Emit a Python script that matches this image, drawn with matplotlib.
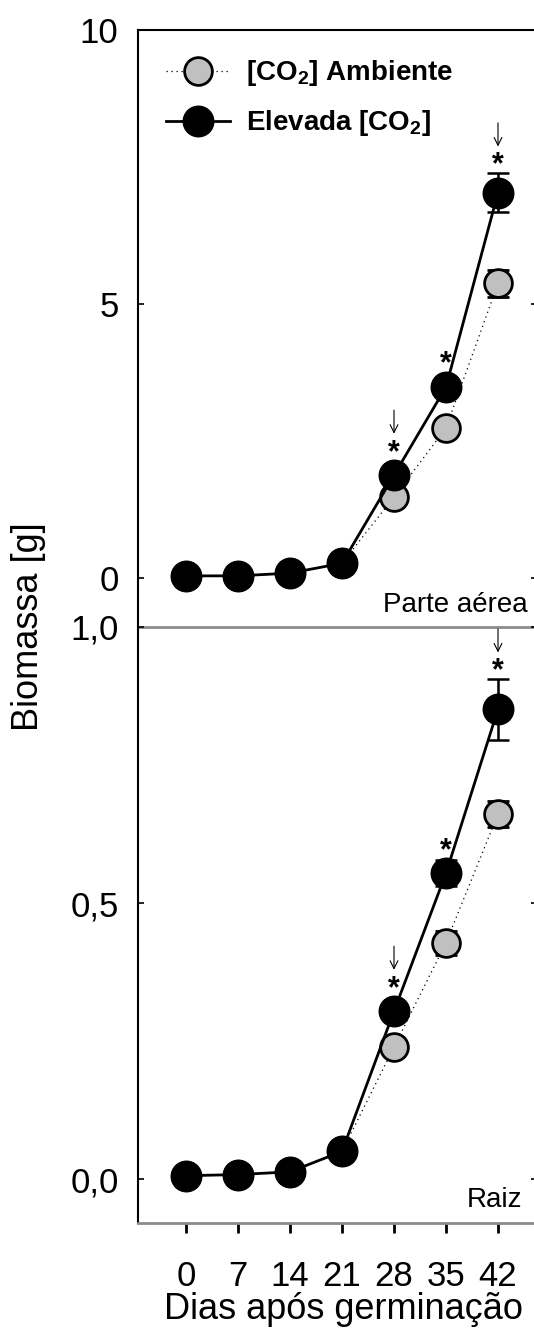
import numpy as np
import matplotlib.pyplot as plt

plt.rcParams['font.family'] = ['Liberation Sans', 'DejaVu Sans']
plt.rcParams['mathtext.fontset'] = 'custom'
plt.rcParams['mathtext.rm'] = 'Liberation Sans'
plt.rcParams['mathtext.bf'] = 'Liberation Sans:bold'

# Dias após germinação
dias = [0, 7, 14, 21, 28, 35, 42]

# Parte aérea (g)
aerea_amb = [0.03, 0.03, 0.08, 0.26, 1.47, 2.73, 5.37]
aerea_amb_err = [0.01, 0.01, 0.02, 0.03, 0.08, 0.10, 0.25]
aerea_elev = [0.03, 0.03, 0.08, 0.26, 1.87, 3.48, 7.03]
aerea_elev_err = [0.01, 0.01, 0.02, 0.03, 0.10, 0.12, 0.36]

# Raiz (g)
raiz_amb = [0.006, 0.008, 0.013, 0.05, 0.239, 0.428, 0.661]
raiz_amb_err = [0.001, 0.001, 0.002, 0.004, 0.008, 0.022, 0.023]
raiz_elev = [0.006, 0.008, 0.013, 0.05, 0.304, 0.554, 0.851]
raiz_elev_err = [0.001, 0.001, 0.002, 0.004, 0.010, 0.024, 0.055]

# dias com diferença significativa (*) e setas
sig_dias = [28, 35, 42]
seta_dias = [28, 42]

W, H = 534, 1336
fig = plt.figure(figsize=(W / 100, H / 100), dpi=100)

x0, x1 = 138 / W, 537 / W
ax_top = fig.add_axes([x0, 1 - 627 / H, x1 - x0, (627 - 30) / H])
ax_bot = fig.add_axes([x0, 1 - 1223 / H, x1 - x0, (1223 - 627) / H])
for ax in (ax_top, ax_bot):
    ax.patch.set_visible(False)


def painel(ax, amb, amb_err, elev, elev_err, ylim, yticks, ylabels, nome, nome_x, nome_y):
    eb_amb = ax.errorbar(dias, amb, yerr=amb_err, fmt='o', color='black', ls=(0, (1, 3)), lw=0.9,
                         ms=20, mfc='#c0c0c0', mec='black', mew=2, ecolor='black', elinewidth=1.8,
                         capsize=8, capthick=1.8, zorder=3)
    eb_elev = ax.errorbar(dias, elev, yerr=elev_err, fmt='o', color='black', ls='-', lw=2,
                          ms=22, mfc='black', mec='black', ecolor='black', elinewidth=1.8,
                          capsize=8, capthick=1.8, zorder=4)
    ax.set_xlim(-6.46, 47.25)
    ax.set_ylim(*ylim)
    ax.set_yticks(yticks)
    ax.set_yticklabels(ylabels)
    ax.tick_params(axis='y', which='both', direction='in', length=4, width=1.2,
                   left=True, right=True, labelsize=25, pad=14)
    ax.text(nome_x, nome_y, nome, transform=ax.transAxes, ha='right', va='baseline', fontsize=20)

    # asteriscos e setas acima das barras de erro
    fig.canvas.draw()
    for d in sig_dias:
        i = dias.index(d)
        yc = ax.transData.transform((d, elev[i]))[1]
        ytop = ax.transData.transform((d, elev[i] + elev_err[i]))[1]
        topo = max(ytop - yc, 15) * 0.72
        ax.annotate('*', xy=(d, elev[i]), xytext=(0, topo - 5.5), textcoords='offset points',
                    ha='center', va='bottom', fontsize=22, fontweight='bold', zorder=5)
        if d in seta_dias:
            ax.annotate('', xy=(d, elev[i]), xytext=(0, topo + 36), textcoords='offset points',
                        arrowprops=dict(arrowstyle='->', lw=0.8, color='black',
                                        shrinkA=0, shrinkB=topo + 19, mutation_scale=14))
    return eb_amb[0], eb_elev[0]


h_amb, h_elev = painel(ax_top, aerea_amb, aerea_amb_err, aerea_elev, aerea_elev_err,
                       (-0.904, 10), [0, 5, 10], ['0', '5', '10'], 'Parte aérea', 0.977, 0.025)
painel(ax_bot, raiz_amb, raiz_amb_err, raiz_elev, raiz_elev_err,
       (-0.0797, 1.0), [0.0, 0.5, 1.0], ['0,0', '0,5', '1,0'], 'Raiz', 0.962, 0.027)

for sp in ['top', 'left', 'right']:
    ax_top.spines[sp].set_linewidth(1.5)
ax_top.spines['bottom'].set_color('#8c8c8c')
ax_top.spines['bottom'].set_linewidth(2)
ax_top.tick_params(axis='x', bottom=False, labelbottom=False)

ax_bot.spines['top'].set_visible(False)
ax_bot.spines['left'].set_linewidth(1.5)
ax_bot.spines['right'].set_linewidth(1.5)
ax_bot.spines['bottom'].set_color('#8c8c8c')
ax_bot.spines['bottom'].set_linewidth(2)
ax_bot.set_xticks(dias)
ax_bot.set_xticklabels([str(d) for d in dias])
ax_bot.tick_params(axis='x', direction='out', length=7, width=2, labelsize=25, pad=20)

ax_top.legend([h_amb, h_elev], [r'[CO$\mathbf{_2}$] Ambiente', r'Elevada [CO$\mathbf{_2}$]'],
              loc='upper left', frameon=False, numpoints=1, handlelength=2.3,
              handletextpad=0.55, labelspacing=0.72, borderaxespad=0.62,
              prop={'weight': 'bold', 'size': 20})

fig.text(29 / W, 1 - 627 / H, 'Biomassa [g]', rotation=90, ha='center', va='center', fontsize=26)
fig.text(343 / W, 1 - 1319 / H, 'Dias após germinação', ha='center', va='baseline', fontsize=26)

fig.savefig('out.png', dpi=100)
